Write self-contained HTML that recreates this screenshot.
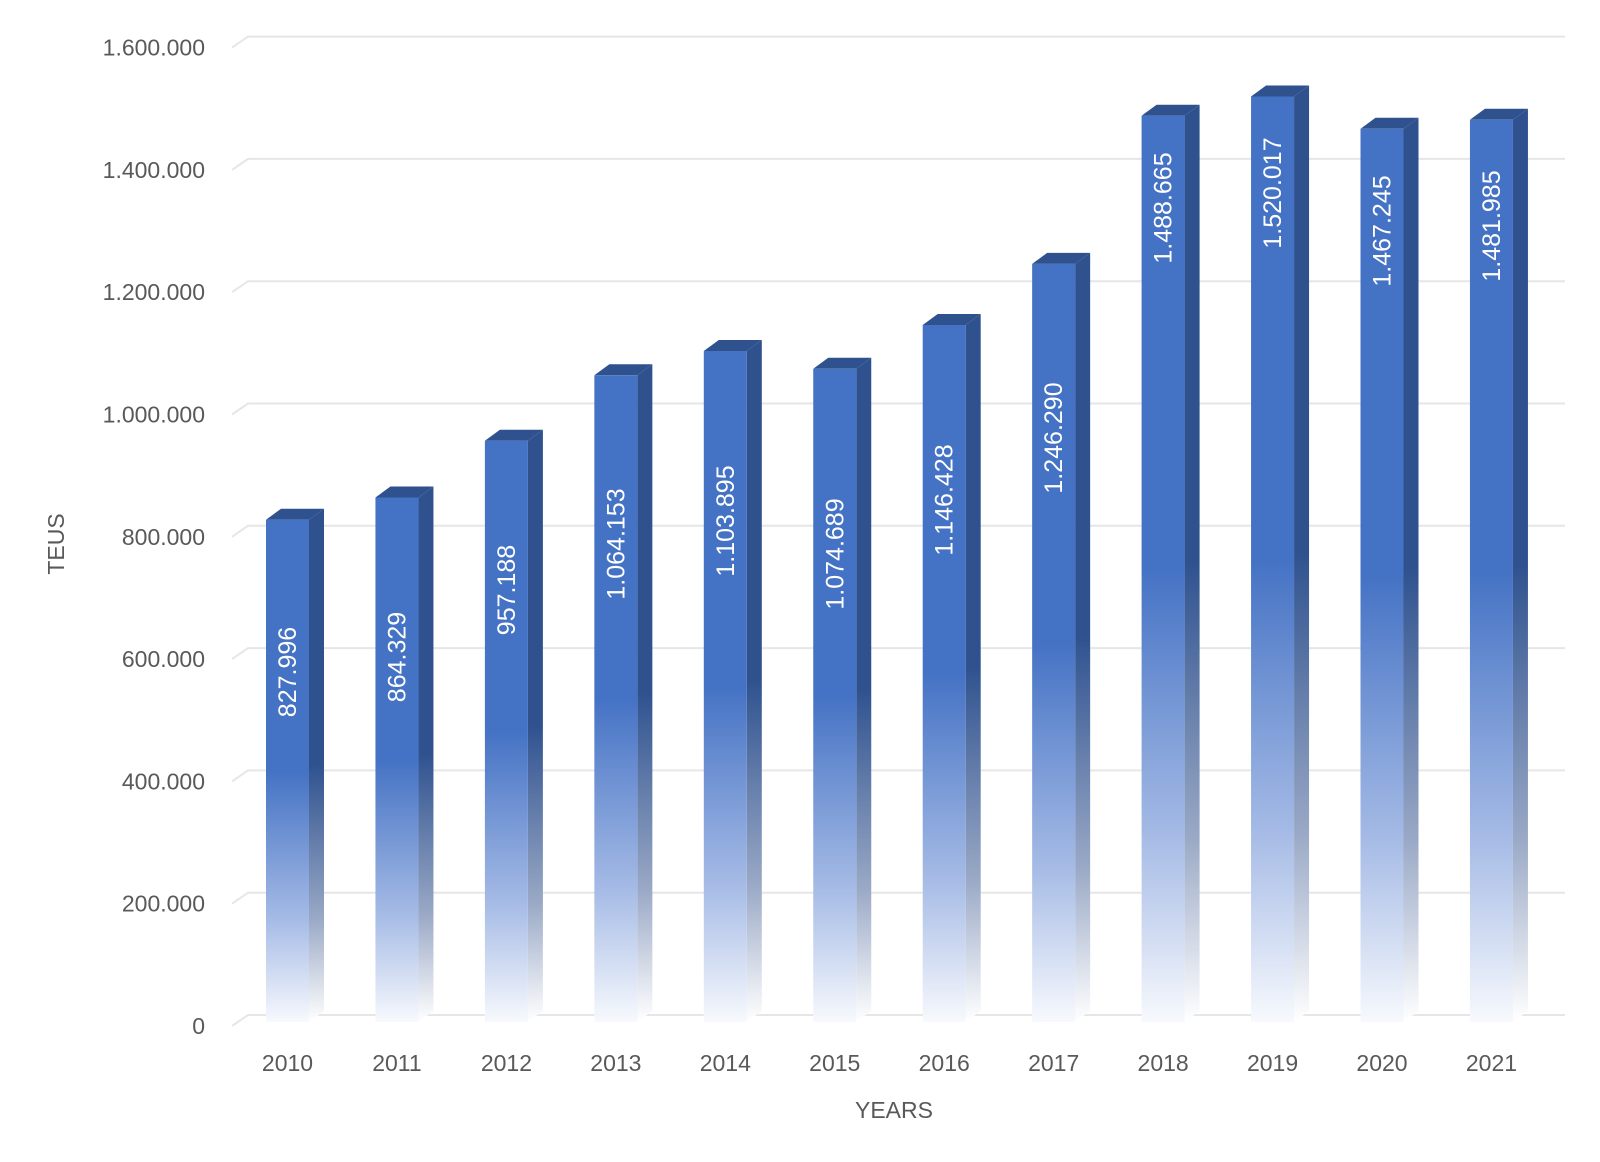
<!DOCTYPE html>
<html><head><meta charset="utf-8"><style>
html,body{margin:0;padding:0;background:#fff;}
svg{display:block;font-family:"Liberation Sans",sans-serif;}
</style></head><body>
<svg width="1600" height="1162" viewBox="0 0 1600 1162" xmlns="http://www.w3.org/2000/svg">
<defs>
<linearGradient id="gf" x1="0" y1="0" x2="0" y2="1">
<stop offset="0" stop-color="#4472C4"/><stop offset="0.5" stop-color="#4472C4"/><stop offset="0.8" stop-color="#a7bce6"/><stop offset="1" stop-color="#f7f9fd"/>
</linearGradient>
<linearGradient id="gs" x1="0" y1="0" x2="0" y2="1">
<stop offset="0" stop-color="#2F528F"/><stop offset="0.5" stop-color="#2F528F"/><stop offset="0.8" stop-color="#9aa9c6"/><stop offset="1" stop-color="#ffffff"/>
</linearGradient>
</defs>
<g stroke="#e6e6e6" stroke-width="2" fill="none">
<path d="M232 1026 L248 1015 L1565 1015"/>
<path d="M232 903.7 L248 892.7 L1565 892.7"/>
<path d="M232 781.4 L248 770.4 L1565 770.4"/>
<path d="M232 659.1 L248 648.1 L1565 648.1"/>
<path d="M232 536.8 L248 525.8 L1565 525.8"/>
<path d="M232 414.5 L248 403.5 L1565 403.5"/>
<path d="M232 292.2 L248 281.2 L1565 281.2"/>
<path d="M232 169.9 L248 158.9 L1565 158.9"/>
<path d="M232 47.6 L248 36.6 L1565 36.6"/>
</g>
<g fill="#595959" font-size="23" text-anchor="end">
<text x="205" y="1034">0</text>
<text x="205" y="911.7">200.000</text>
<text x="205" y="789.4">400.000</text>
<text x="205" y="667.1">600.000</text>
<text x="205" y="544.8">800.000</text>
<text x="205" y="422.5">1.000.000</text>
<text x="205" y="300.2">1.200.000</text>
<text x="205" y="177.9">1.400.000</text>
<text x="205" y="55.6">1.600.000</text>
</g>

<g transform="translate(266,0)"><polygon points="43,519.7 58,508.7 58,1011 43,1022" fill="url(#gs)"/><polygon points="0,519.7 15,508.7 58,508.7 43,519.7" fill="#2F528F"/><rect x="0" y="519.7" width="43" height="502.3" fill="url(#gf)"/><text transform="translate(30,672) rotate(-90)" text-anchor="middle" fill="#fff" font-size="25">827.996</text><text x="21.5" y="1071" text-anchor="middle" fill="#595959" font-size="23">2010</text></g>
<g transform="translate(375.45,0)"><polygon points="43,497.5 58,486.5 58,1011 43,1022" fill="url(#gs)"/><polygon points="0,497.5 15,486.5 58,486.5 43,497.5" fill="#2F528F"/><rect x="0" y="497.5" width="43" height="524.5" fill="url(#gf)"/><text transform="translate(30,657) rotate(-90)" text-anchor="middle" fill="#fff" font-size="25">864.329</text><text x="21.5" y="1071" text-anchor="middle" fill="#595959" font-size="23">2011</text></g>
<g transform="translate(484.9,0)"><polygon points="43,440.7 58,429.7 58,1011 43,1022" fill="url(#gs)"/><polygon points="0,440.7 15,429.7 58,429.7 43,440.7" fill="#2F528F"/><rect x="0" y="440.7" width="43" height="581.3" fill="url(#gf)"/><text transform="translate(30,590) rotate(-90)" text-anchor="middle" fill="#fff" font-size="25">957.188</text><text x="21.5" y="1071" text-anchor="middle" fill="#595959" font-size="23">2012</text></g>
<g transform="translate(594.35,0)"><polygon points="43,375.3 58,364.3 58,1011 43,1022" fill="url(#gs)"/><polygon points="0,375.3 15,364.3 58,364.3 43,375.3" fill="#2F528F"/><rect x="0" y="375.3" width="43" height="646.7" fill="url(#gf)"/><text transform="translate(30,544) rotate(-90)" text-anchor="middle" fill="#fff" font-size="25">1.064.153</text><text x="21.5" y="1071" text-anchor="middle" fill="#595959" font-size="23">2013</text></g>
<g transform="translate(703.8,0)"><polygon points="43,351 58,340 58,1011 43,1022" fill="url(#gs)"/><polygon points="0,351 15,340 58,340 43,351" fill="#2F528F"/><rect x="0" y="351" width="43" height="671" fill="url(#gf)"/><text transform="translate(30,521) rotate(-90)" text-anchor="middle" fill="#fff" font-size="25">1.103.895</text><text x="21.5" y="1071" text-anchor="middle" fill="#595959" font-size="23">2014</text></g>
<g transform="translate(813.25,0)"><polygon points="43,368.8 58,357.8 58,1011 43,1022" fill="url(#gs)"/><polygon points="0,368.8 15,357.8 58,357.8 43,368.8" fill="#2F528F"/><rect x="0" y="368.8" width="43" height="653.2" fill="url(#gf)"/><text transform="translate(30,554) rotate(-90)" text-anchor="middle" fill="#fff" font-size="25">1.074.689</text><text x="21.5" y="1071" text-anchor="middle" fill="#595959" font-size="23">2015</text></g>
<g transform="translate(922.7,0)"><polygon points="43,325 58,314 58,1011 43,1022" fill="url(#gs)"/><polygon points="0,325 15,314 58,314 43,325" fill="#2F528F"/><rect x="0" y="325" width="43" height="697" fill="url(#gf)"/><text transform="translate(30,500) rotate(-90)" text-anchor="middle" fill="#fff" font-size="25">1.146.428</text><text x="21.5" y="1071" text-anchor="middle" fill="#595959" font-size="23">2016</text></g>
<g transform="translate(1032.15,0)"><polygon points="43,263.9 58,252.9 58,1011 43,1022" fill="url(#gs)"/><polygon points="0,263.9 15,252.9 58,252.9 43,263.9" fill="#2F528F"/><rect x="0" y="263.9" width="43" height="758.1" fill="url(#gf)"/><text transform="translate(30,438) rotate(-90)" text-anchor="middle" fill="#fff" font-size="25">1.246.290</text><text x="21.5" y="1071" text-anchor="middle" fill="#595959" font-size="23">2017</text></g>
<g transform="translate(1141.6,0)"><polygon points="43,115.7 58,104.7 58,1011 43,1022" fill="url(#gs)"/><polygon points="0,115.7 15,104.7 58,104.7 43,115.7" fill="#2F528F"/><rect x="0" y="115.7" width="43" height="906.3" fill="url(#gf)"/><text transform="translate(30,208) rotate(-90)" text-anchor="middle" fill="#fff" font-size="25">1.488.665</text><text x="21.5" y="1071" text-anchor="middle" fill="#595959" font-size="23">2018</text></g>
<g transform="translate(1251.05,0)"><polygon points="43,96.5 58,85.5 58,1011 43,1022" fill="url(#gs)"/><polygon points="0,96.5 15,85.5 58,85.5 43,96.5" fill="#2F528F"/><rect x="0" y="96.5" width="43" height="925.5" fill="url(#gf)"/><text transform="translate(30,193) rotate(-90)" text-anchor="middle" fill="#fff" font-size="25">1.520.017</text><text x="21.5" y="1071" text-anchor="middle" fill="#595959" font-size="23">2019</text></g>
<g transform="translate(1360.5,0)"><polygon points="43,128.8 58,117.8 58,1011 43,1022" fill="url(#gs)"/><polygon points="0,128.8 15,117.8 58,117.8 43,128.8" fill="#2F528F"/><rect x="0" y="128.8" width="43" height="893.2" fill="url(#gf)"/><text transform="translate(30,231) rotate(-90)" text-anchor="middle" fill="#fff" font-size="25">1.467.245</text><text x="21.5" y="1071" text-anchor="middle" fill="#595959" font-size="23">2020</text></g>
<g transform="translate(1469.95,0)"><polygon points="43,119.8 58,108.8 58,1011 43,1022" fill="url(#gs)"/><polygon points="0,119.8 15,108.8 58,108.8 43,119.8" fill="#2F528F"/><rect x="0" y="119.8" width="43" height="902.2" fill="url(#gf)"/><text transform="translate(30,226) rotate(-90)" text-anchor="middle" fill="#fff" font-size="25">1.481.985</text><text x="21.5" y="1071" text-anchor="middle" fill="#595959" font-size="23">2021</text></g>

<text x="894" y="1118" fill="#595959" font-size="23" text-anchor="middle">YEARS</text>
<text transform="translate(64,544) rotate(-90)" fill="#595959" font-size="23" text-anchor="middle">TEUS</text>
</svg>
</body></html>
